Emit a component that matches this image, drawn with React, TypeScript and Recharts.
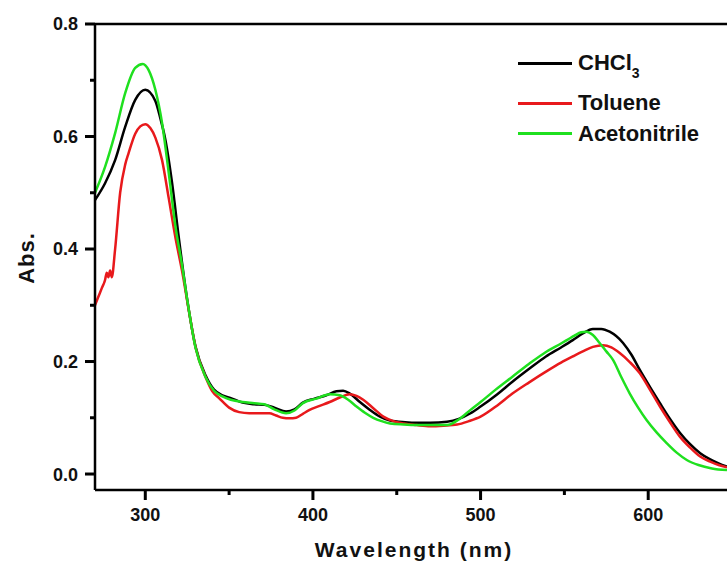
import React from "react";
import { LineChart, Line, XAxis, YAxis, ReferenceLine } from "recharts";

// wavelength (nm) / absorbance pairs
const chclNm = [270, 276, 282, 288, 294, 300, 306, 309, 312, 316, 320, 325, 330, 336, 341, 346, 351, 358, 365, 371, 377, 384, 389, 394, 401, 408, 414, 418, 422, 428, 434, 440, 446, 455, 462, 470, 480, 487, 494, 500, 510, 519, 529, 539, 548, 555, 561, 567, 572, 577, 585, 590, 595, 601, 607, 613, 619, 625, 631, 637, 642, 647];
const chclAbs = [0.487, 0.517, 0.558, 0.617, 0.665, 0.683, 0.663, 0.632, 0.594, 0.517, 0.42, 0.31, 0.226, 0.175, 0.15, 0.14, 0.135, 0.127, 0.124, 0.123, 0.118, 0.111, 0.115, 0.127, 0.134, 0.14, 0.147, 0.148, 0.143, 0.128, 0.114, 0.102, 0.095, 0.092, 0.091, 0.091, 0.093, 0.098, 0.108, 0.12, 0.142, 0.164, 0.187, 0.209, 0.225, 0.238, 0.25, 0.258, 0.258, 0.253, 0.233, 0.212, 0.185, 0.155, 0.126, 0.098, 0.073, 0.053, 0.037, 0.026, 0.019, 0.013];

const tolNm = [270, 272, 274, 276, 277, 278, 279, 280, 282, 285, 288, 290, 294, 297, 300, 303, 306, 310, 314, 318, 322, 326, 330, 336, 340, 344, 350, 356, 362, 368, 374, 378, 382, 386, 390, 394, 398, 404, 410, 416, 422, 426, 430, 436, 442, 448, 454, 462, 470, 478, 486, 493, 500, 510, 519, 529, 539, 548, 555, 561, 567, 573, 578, 583, 589, 595, 601, 607, 613, 619, 625, 631, 637, 642, 647];
const tolAbs = [0.3, 0.315, 0.33, 0.345, 0.358, 0.35, 0.362, 0.35, 0.4, 0.5, 0.55, 0.57, 0.605, 0.618, 0.622, 0.615, 0.598, 0.558, 0.49, 0.42, 0.36, 0.29, 0.225, 0.172, 0.147, 0.135, 0.118, 0.11, 0.108, 0.108, 0.108, 0.104, 0.1, 0.099, 0.1, 0.107, 0.114, 0.121, 0.128, 0.136, 0.142, 0.139, 0.132, 0.117, 0.102, 0.094, 0.09, 0.087, 0.085, 0.086, 0.088, 0.094, 0.102, 0.122, 0.143, 0.163, 0.182, 0.198, 0.209, 0.218, 0.226, 0.229, 0.225, 0.215, 0.199, 0.179, 0.15, 0.12, 0.092, 0.066, 0.047, 0.031, 0.022, 0.016, 0.012];

const acnNm = [270, 276, 282, 288, 294, 298.5, 302, 306, 310, 314, 318, 322, 325, 330, 336, 341, 346, 351, 358, 365, 371, 377, 384, 389, 394, 402, 410, 416, 421, 426, 431, 436, 441, 446, 454, 462, 470, 480, 487, 494, 500, 509, 519, 529, 539, 548, 552, 556, 560, 563, 567, 571, 575, 579, 584, 589, 594, 599, 605, 611, 617, 623, 630, 638, 647];
const acnAbs = [0.5, 0.546, 0.606, 0.677, 0.722, 0.729, 0.718, 0.683, 0.624, 0.535, 0.44, 0.37, 0.31, 0.224, 0.172, 0.148, 0.138, 0.132, 0.128, 0.126, 0.124, 0.115, 0.108, 0.113, 0.126, 0.134, 0.142, 0.14, 0.132, 0.12, 0.109, 0.1, 0.094, 0.09, 0.088, 0.087, 0.087, 0.087, 0.097, 0.114, 0.128, 0.15, 0.173, 0.196, 0.217, 0.232, 0.239, 0.246, 0.252, 0.253, 0.247, 0.233, 0.218, 0.203, 0.172, 0.143, 0.118, 0.096, 0.074, 0.055, 0.038, 0.025, 0.016, 0.01, 0.007];

const xTicks = [300, 350, 400, 450, 500, 550, 600];
const yTicks = [0, 0.1, 0.2, 0.3, 0.4, 0.5, 0.6, 0.7, 0.8];

const toRows = (nm: number[], abs: number[]) =>
  nm.map((w, i) => ({ nm: w, abs: abs[i] }));

const chclData = toRows(chclNm, chclAbs);
const tolData = toRows(tolNm, tolAbs);
const acnData = toRows(acnNm, acnAbs);

const FONT = '"Liberation Sans", Arial, sans-serif';
const BLACK = "#000000";
const RED = "#e8191c";
const GREEN = "#1fe01f";

// tick mark + label; half steps get a short unlabelled mark
const XTick = (props: any) => {
  const x = Number(props.x);
  const y = Number(props.y);
  const v = props.payload.value;
  const major = v % 100 === 0;
  return (
    <g>
      <rect x={x - 1.5} y={y} width={3} height={major ? 10 : 5} fill="#000" />
      {major && (
        <text x={x} y={y + 31} textAnchor="middle" fontFamily={FONT} fontWeight={700} fontSize={18} fill="#111">
          {v}
        </text>
      )}
    </g>
  );
};

const YTick = (props: any) => {
  const x = Number(props.x);
  const y = Number(props.y);
  const v = props.payload.value;
  const major = Math.round(v * 10) % 2 === 0;
  const len = major ? 10 : 5;
  return (
    <g>
      <rect x={x - len} y={y - 1.5} width={len} height={3} fill="#000" />
      {major && (
        <text x={x - 17} y={y} dy="0.36em" textAnchor="end" fontFamily={FONT} fontWeight={700} fontSize={18} fill="#111">
          {v.toFixed(1)}
        </text>
      )}
    </g>
  );
};

const legendRows = [
  { color: BLACK, center: 63, label: <>CHCl<sub style={{ fontSize: 14, verticalAlign: -8 }}>3</sub></> },
  { color: RED, center: 103, label: <>Toluene</> },
  { color: GREEN, center: 133.5, label: <>Acetonitrile</> },
];

const LEG_TOP = 45;

const ChartLegend = () => (
  <div style={{ position: "absolute", left: 510, top: LEG_TOP, width: 217, height: 110, fontFamily: FONT, fontWeight: 700, fontSize: 22, color: "#111" }}>
    {legendRows.map((r, i) => (
      <React.Fragment key={i}>
        <div style={{ position: "absolute", left: 8, top: r.center - LEG_TOP - 1.5, width: 54, height: 3, background: r.color }} />
        <div style={{ position: "absolute", left: 68, top: r.center - LEG_TOP - 13, lineHeight: "26px", whiteSpace: "nowrap" }}>
          {r.label}
        </div>
      </React.Fragment>
    ))}
  </div>
);

const titleStyle: React.CSSProperties = {
  position: "absolute",
  fontFamily: FONT,
  fontWeight: 700,
  color: "#111",
  textAlign: "center",
  whiteSpace: "nowrap",
};

export default function App() {
  return (
    <div style={{ position: "absolute", left: 0, top: 0, width: 727, height: 566, background: "#fff" }}>
      <LineChart width={727} height={566} margin={{ top: 24, right: 0, left: 0, bottom: 0 }}>
        <XAxis
          dataKey="nm"
          type="number"
          domain={[270, 647]}
          ticks={xTicks}
          tick={<XTick />}
          tickSize={0}
          tickMargin={0}
          tickLine={false}
          height={76}
          axisLine={{ stroke: "#000", strokeWidth: 2.5 }}
        />
        <YAxis
          type="number"
          domain={[-0.0284, 0.8]}
          ticks={yTicks}
          tick={<YTick />}
          tickSize={0}
          tickMargin={0}
          tickLine={false}
          width={95}
          axisLine={{ stroke: "#000", strokeWidth: 2.5 }}
        />
        <ReferenceLine y={0.8} stroke="#000" strokeWidth={2.5} />
        <Line data={chclData} dataKey="abs" name="CHCl3" type="monotone" stroke={BLACK} strokeWidth={2.5} dot={false} isAnimationActive={false} />
        <Line data={tolData} dataKey="abs" name="Toluene" type="monotone" stroke={RED} strokeWidth={2.5} dot={false} isAnimationActive={false} />
        <Line data={acnData} dataKey="abs" name="Acetonitrile" type="monotone" stroke={GREEN} strokeWidth={2.5} dot={false} isAnimationActive={false} />
      </LineChart>
      <ChartLegend />
      <div style={{ ...titleStyle, left: 214, top: 538, width: 400, fontSize: 21, letterSpacing: 2, lineHeight: "24px" }}>
        Wavelength (nm)
      </div>
      <div style={{ ...titleStyle, left: -23, top: 245, width: 100, height: 26, fontSize: 22, letterSpacing: 1, lineHeight: "26px", transform: "rotate(-90deg)" }}>
        Abs.
      </div>
    </div>
  );
}
